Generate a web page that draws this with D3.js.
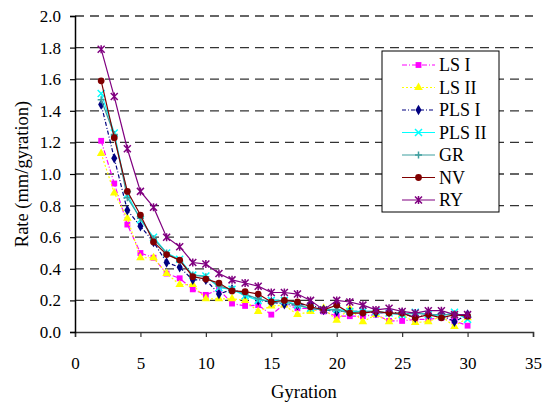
<!DOCTYPE html>
<html>
<head>
<meta charset="utf-8">
<script src="https://cdnjs.cloudflare.com/ajax/libs/d3/7.8.5/d3.min.js"></script>
<style>
  body { margin: 0; background: #fff; }
  text { font-family: "Liberation Serif", "Times New Roman", serif; fill: #000; }
</style>
</head>
<body>
<div id="chart"></div>
<script>
// data
const gyration = [2,3,4,5,6,7,8,9,10,11,12,13,14,15,16,17,18,19,20,21,22,23,24,25,26,27,28,29,30];

const lsI   = [1.21,0.94,0.68,0.50,0.47,0.37,0.34,0.27,0.235,0.27,0.18,0.165,0.17,0.11,0.175,0.15,0.15,0.13,0.10,0.10,0.10,0.11,0.07,0.07,0.08,0.08,0.09,0.07,0.04];
const lsII  = [1.13,0.88,0.72,0.47,0.47,0.37,0.30,0.30,0.21,0.21,0.21,0.20,0.13,0.165,0.17,0.11,0.13,0.15,0.075,0.15,0.065,0.11,0.065,0.11,0.06,0.065,0.10,0.035,0.09];
const plsI  = [1.44,1.10,0.77,0.67,0.57,0.44,0.41,0.33,0.33,0.24,0.27,0.24,0.20,0.19,0.175,0.17,0.175,0.14,0.13,0.13,0.13,0.12,0.125,0.12,0.09,0.11,0.11,0.065,0.11];
const plsII = [1.51,1.26,0.87,0.71,0.60,0.50,0.46,0.36,0.355,0.28,0.27,0.23,0.20,0.20,0.20,0.17,0.15,0.14,0.145,0.13,0.13,0.13,0.12,0.11,0.125,0.11,0.10,0.125,0.08];
const gr    = [1.47,1.25,0.85,0.72,0.59,0.50,0.45,0.36,0.35,0.29,0.27,0.24,0.21,0.19,0.19,0.17,0.15,0.14,0.14,0.12,0.13,0.13,0.12,0.11,0.12,0.11,0.11,0.11,0.10];
const nv    = [1.59,1.23,0.89,0.74,0.57,0.49,0.455,0.35,0.335,0.31,0.26,0.255,0.24,0.19,0.20,0.19,0.16,0.14,0.17,0.12,0.12,0.13,0.12,0.12,0.09,0.11,0.09,0.11,0.10];
const ry    = [1.79,1.49,1.16,0.89,0.79,0.60,0.54,0.44,0.43,0.37,0.33,0.31,0.29,0.25,0.25,0.24,0.20,0.14,0.20,0.19,0.17,0.14,0.15,0.13,0.12,0.135,0.135,0.11,0.11];

const xTicks = [0,5,10,15,20,25,30,35];
const yTicks = [0,0.2,0.4,0.6,0.8,1.0,1.2,1.4,1.6,1.8,2.0];

const series = [
  {name: "LS I",   values: lsI,   color: "#FF00FF", dash: "5,2,1,2", shape: "square"},
  {name: "LS II",  values: lsII,  color: "#FFFF00", dash: "2,2",     shape: "triangle"},
  {name: "PLS I",  values: plsI,  color: "#000080", dash: "4,2,1,2", shape: "diamond"},
  {name: "PLS II", values: plsII, color: "#00FFFF", dash: null,      shape: "x"},
  {name: "GR",     values: gr,    color: "#3F9F9F", dash: null,      shape: "plus"},
  {name: "NV",     values: nv,    color: "#800000", dash: null,      shape: "circle"},
  {name: "RY",     values: ry,    color: "#800080", dash: null,      shape: "star"}
];

const WIDTH = 543, HEIGHT = 404;
const margin = {left: 75, right: 10, top: 16, bottom: 72};
const FONT = "Liberation Serif";

const svg = d3.select("#chart").append("svg")
  .attr("width", WIDTH).attr("height", HEIGHT);

const x = d3.scaleLinear().domain([0, 35]).range([margin.left, WIDTH - margin.right]);
const y = d3.scaleLinear().domain([0, 2]).range([HEIGHT - margin.bottom, margin.top]);

// dashed grid
svg.append("g")
  .selectAll("line")
  .data(yTicks.filter(d => d > 0))
  .enter()
  .append("line")
  .attr("x1", x(0)).attr("x2", x(35))
  .attr("y1", d => y(d)).attr("y2", d => y(d))
  .attr("stroke", "#333")
  .attr("stroke-width", 1.3)
  .attr("stroke-dasharray", "9,6");

// axes
const xAxis = svg.append("g")
  .attr("transform", `translate(0,${y(0)})`)
  .attr("font-family", FONT)
  .call(d3.axisBottom(x).tickValues(xTicks).tickSize(5).tickFormat(d3.format("d")));
const yAxis = svg.append("g")
  .attr("transform", `translate(${x(0)},0)`)
  .attr("font-family", FONT)
  .call(d3.axisLeft(y).tickValues(yTicks).tickSize(5).tickFormat(d3.format(".1f")));

xAxis.attr("font-family", FONT);
yAxis.attr("font-family", FONT);
xAxis.select(".domain").attr("stroke", "#333").attr("stroke-width", 1.5);
yAxis.select(".domain").attr("stroke", "#000").attr("stroke-width", 1.5);
xAxis.selectAll(".tick line").attr("stroke", "#333").attr("stroke-width", 1.2);
yAxis.selectAll(".tick line").attr("stroke", "#000").attr("stroke-width", 1.2);
xAxis.selectAll("text").attr("font-size", 17).attr("y", 25);
yAxis.selectAll("text").attr("font-size", 17).attr("x", -14);

// axis titles
svg.append("text")
  .attr("x", (x(0) + x(35)) / 2).attr("y", 398)
  .attr("text-anchor", "middle")
  .attr("font-size", 18.5)
  .text("Gyration");
svg.append("text")
  .attr("transform", `translate(28,${(y(0) + y(2)) / 2}) rotate(-90)`)
  .attr("text-anchor", "middle")
  .attr("font-size", 18.5)
  .text("Rate (mm/gyration)");

// marker shapes
function markerPath(shape) {
  if (shape === "square") return d3.symbol(d3.symbolSquare, 34)();
  if (shape === "triangle") return d3.symbol(d3.symbolTriangle, 32)();
  if (shape === "diamond") return d3.symbol(d3.symbolDiamond, 32)();
  if (shape === "circle") return d3.symbol(d3.symbolCircle, 36)();
  if (shape === "x") return "M-3.5,-3.5L3.5,3.5M-3.5,3.5L3.5,-3.5";
  if (shape === "plus") return "M-3.5,0L3.5,0M0,-3.5L0,3.5";
  return "M-3.5,-3.5L3.5,3.5M-3.5,3.5L3.5,-3.5M0,-4L0,4";
}
function isStroked(shape) {
  return shape === "x" || shape === "plus" || shape === "star";
}

const line = d3.line()
  .x((d, i) => x(gyration[i]))
  .y(d => y(d));

series.forEach(s => {
  const g = svg.append("g");
  g.append("path")
    .attr("d", line(s.values))
    .attr("fill", "none")
    .attr("stroke", s.color)
    .attr("stroke-width", 1.2)
    .attr("stroke-dasharray", s.dash);
  g.selectAll("path.pt")
    .data(s.values)
    .enter()
    .append("path")
    .attr("class", "pt")
    .attr("transform", (d, i) => `translate(${x(gyration[i])},${y(d)})`)
    .attr("d", markerPath(s.shape))
    .attr("fill", isStroked(s.shape) ? "none" : s.color)
    .attr("stroke", isStroked(s.shape) ? s.color : "none")
    .attr("stroke-width", 1.5);
});

// legend
const legend = svg.append("g");
legend.append("rect")
  .attr("x", 382).attr("y", 51)
  .attr("width", 117).attr("height", 161)
  .attr("fill", "#fff")
  .attr("stroke", "#000")
  .attr("stroke-width", 1);

series.forEach((s, i) => {
  const ly = 65 + i * 22.5;
  const row = legend.append("g");
  row.append("line")
    .attr("x1", 402).attr("x2", 435)
    .attr("y1", ly).attr("y2", ly)
    .attr("stroke", s.color)
    .attr("stroke-width", 1.2)
    .attr("stroke-dasharray", s.dash);
  row.append("path")
    .attr("transform", `translate(418.5,${ly})`)
    .attr("d", markerPath(s.shape))
    .attr("fill", isStroked(s.shape) ? "none" : s.color)
    .attr("stroke", isStroked(s.shape) ? s.color : "none")
    .attr("stroke-width", 1.5);
  row.append("text")
    .attr("x", 439).attr("y", ly + 6)
    .attr("font-size", 18)
    .text(s.name);
});
</script>
</body>
</html>
